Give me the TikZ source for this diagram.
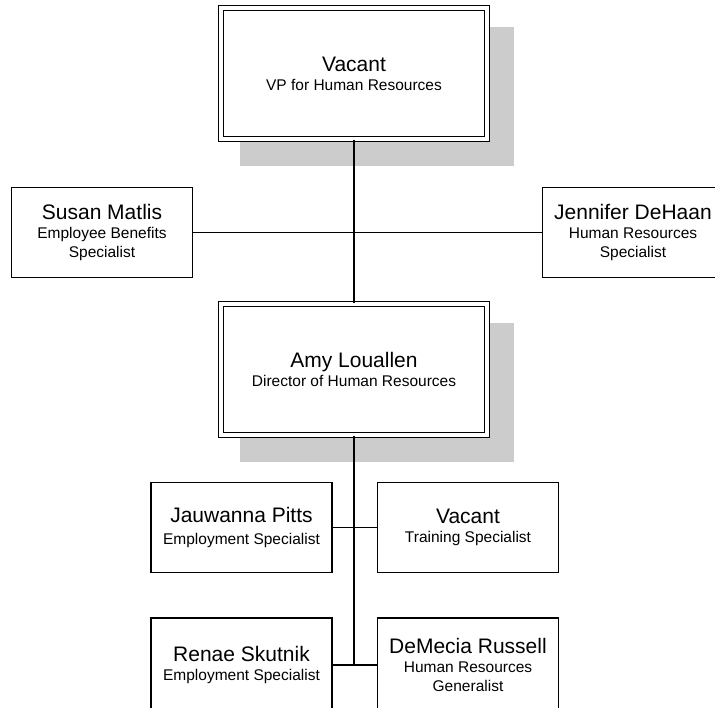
\documentclass[tikz,border=0pt]{standalone}
\usepackage{fontspec}
\setmainfont{Liberation Sans}
\usetikzlibrary{backgrounds}
\newcommand{\nm}[1]{{\fontsize{21}{21}\selectfont #1}}
\begin{document}
\begin{tikzpicture}[x=1pt,y=1pt,
    person/.style={draw,fill=white,line width=1.5pt,minimum width=181pt,minimum height=90pt,
      align=center,inner sep=0pt,font=\fontsize{15.5}{19}\selectfont},
    head/.style={person,double=white,double distance=3.4pt,line width=1.4pt,minimum width=266pt,minimum height=131pt},
    link/.style={line width=1.6pt}]
\useasboundingbox (0,0) rectangle (715,707);
\clip (0,0) rectangle (715,707);
\node[head] (vp) at (354,633.5) {\nm{Vacant}\\VP for Human Resources};
\node[person] (susan) at (102,474.5) {\nm{Susan Matlis}\\Employee Benefits\\Specialist};
\node[person] (jennifer) at (633,474.5) {\nm{Jennifer DeHaan}\\Human Resources\\Specialist};
\node[head] (amy) at (354,337.5) {\nm{Amy Louallen}\\Director of Human Resources};
\node[person] (jauwanna) at (241.5,179.5) {\nm{Jauwanna Pitts}\\[3pt]Employment Specialist};
\node[person] (training) at (468,179.5) {\nm{Vacant}\\Training Specialist};
\node[person,minimum height=94pt] (renae) at (241.5,42) {\nm{Renae Skutnik}\\Employment Specialist};
\node[person,minimum height=94pt] (demecia) at (468,42) {\nm{DeMecia Russell}\\Human Resources\\Generalist};
\begin{scope}[on background layer]
  \fill[black!20] ([shift={(20,-26)}]vp.south west) rectangle ([shift={(26,-20)}]vp.north east);
  \fill[black!20] ([shift={(20,-26)}]amy.south west) rectangle ([shift={(26,-20)}]amy.north east);
\end{scope}
\draw[link] (vp.south) -- (amy.north);
\draw[link] (susan.east) -- (jennifer.west);
\draw[link] (amy.south) -- (amy.south |- renae.east);
\draw[link] (jauwanna.east) -- (training.west);
\draw[link] (renae.east) -- (demecia.west);
\end{tikzpicture}
\end{document}
